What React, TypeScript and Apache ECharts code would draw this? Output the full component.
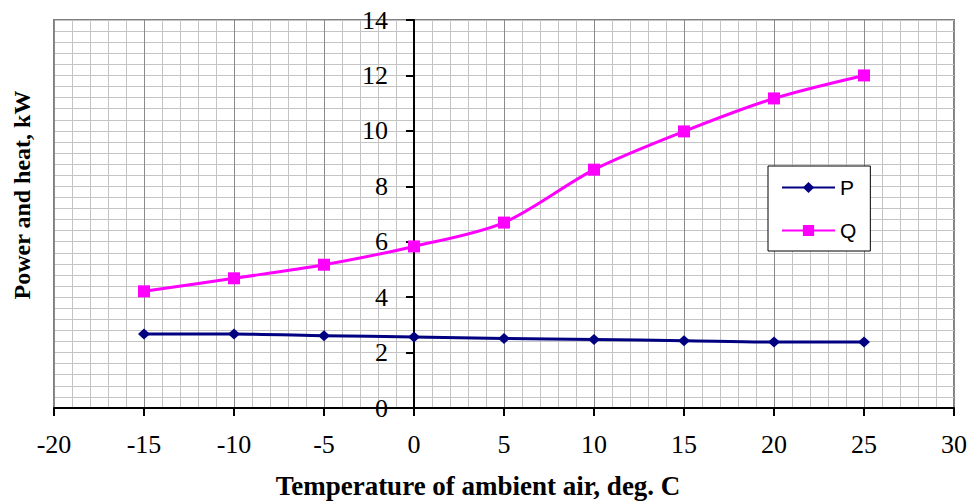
import React, { useEffect, useRef } from "react";
import * as echarts from "echarts";

const temperatures = [-15, -10, -5, 0, 5, 10, 15, 20, 25];
const powerP = [2.67, 2.67, 2.61, 2.56, 2.51, 2.47, 2.43, 2.38, 2.38];
const heatQ = [4.21, 4.68, 5.17, 5.83, 6.69, 8.6, 9.98, 11.17, 12.0];
const seriesNames = ["P", "Q"];
const xTitle = "Temperature of ambient air, deg. C";
const yTitle = "Power and heat, kW";

const serif = "Liberation Serif";
const sans = "Liberation Sans";

export default function App() {
  const ref = useRef<HTMLDivElement>(null);
  useEffect(() => {
    const chart = echarts.init(ref.current!, null, { renderer: "svg" });
    chart.setOption({
      animation: false,
      backgroundColor: "#ffffff",
      textStyle: { fontFamily: serif },
      grid: {
        left: 54,
        right: 17,
        top: 20,
        bottom: 95,
        show: true,
        borderColor: "#808080",
        borderWidth: 2,
        backgroundColor: "transparent",
      },
      legend: {
        orient: "vertical",
        left: 768,
        top: 166,
        data: seriesNames,
        itemWidth: 53,
        itemHeight: 14,
        itemGap: 22,
        padding: [11, 14, 10, 13],
        backgroundColor: "#ffffff",
        borderColor: "#000000",
        borderWidth: 1,
        borderRadius: 0,
        textStyle: { fontFamily: sans, fontSize: 21, color: "#000", lineHeight: 21 },
      },
      xAxis: {
        type: "value",
        min: -20,
        max: 30,
        interval: 5,
        axisLine: { show: true, onZero: true, lineStyle: { color: "#000", width: 2 } },
        axisTick: { show: true, length: 8, lineStyle: { color: "#000", width: 2 } },
        axisLabel: { fontFamily: serif, fontSize: 26, color: "#000", margin: 23 },
        splitLine: { show: true, lineStyle: { color: "#8a8a8a", width: 1 } },
        minorTick: { show: false, splitNumber: 5 },
        minorSplitLine: { show: true, lineStyle: { color: "#c4c4c4", width: 1 } },
      },
      yAxis: {
        type: "value",
        position: "left",
        offset: -360,
        min: 0,
        max: 14,
        interval: 2,
        axisLine: { show: true, onZero: false, lineStyle: { color: "#000", width: 2 } },
        axisTick: { show: true, length: 8, lineStyle: { color: "#000", width: 2 } },
        axisLabel: { fontFamily: serif, fontSize: 26, color: "#000", margin: 26 },
        splitLine: { show: true, lineStyle: { color: "#c4c4c4", width: 1 } },
        minorTick: { show: false, splitNumber: 5 },
        minorSplitLine: { show: true, lineStyle: { color: "#c4c4c4", width: 1 } },
      },
      series: [
        {
          name: seriesNames[0],
          type: "line",
          data: temperatures.map((t, i) => [t, powerP[i]]),
          smooth: 0.3,
          symbol: "diamond",
          symbolSize: [12, 11],
          color: "#000080",
          lineStyle: { color: "#000080", width: 3 },
          itemStyle: { color: "#000080" },
          z: 3,
        },
        {
          name: seriesNames[1],
          type: "line",
          data: temperatures.map((t, i) => [t, heatQ[i]]),
          smooth: 0.3,
          symbol: "rect",
          symbolSize: 12,
          color: "#ff00ff",
          lineStyle: { color: "#ff00ff", width: 3 },
          itemStyle: { color: "#ff00ff" },
          z: 3,
        },
      ],
      graphic: [
        {
          type: "text",
          x: 21.5,
          y: 195,
          rotation: Math.PI / 2,
          style: {
            text: yTitle,
            fontFamily: serif,
            fontWeight: "bold",
            fontSize: 24,
            fill: "#000",
            align: "center",
            verticalAlign: "middle",
          },
        },
        {
          type: "text",
          x: 478,
          y: 486,
          style: {
            text: xTitle,
            fontFamily: serif,
            fontWeight: "bold",
            fontSize: 27,
            fill: "#000",
            align: "center",
            verticalAlign: "middle",
          },
        },
      ],
    });
    return () => chart.dispose();
  }, []);
  return (
    <div
      ref={ref}
      style={{ position: "absolute", left: 0, top: 0, width: 971, height: 503 }}
    />
  );
}
